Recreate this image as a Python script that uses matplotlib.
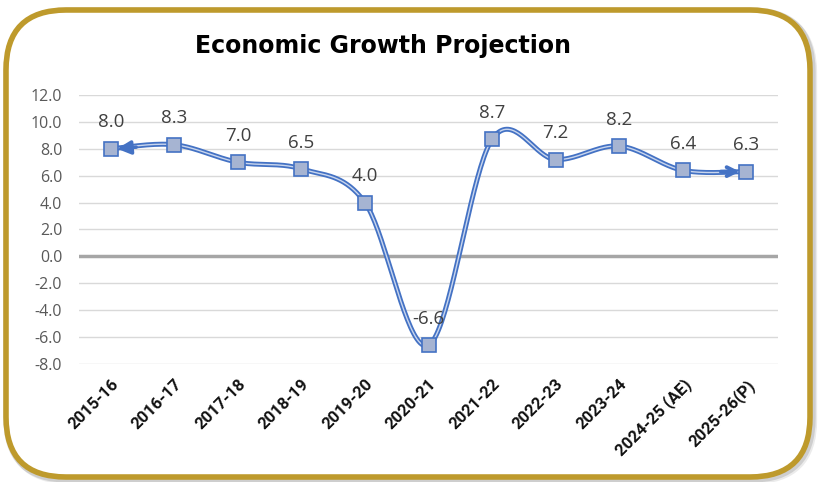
import numpy as np
import matplotlib.pyplot as plt
from matplotlib.patches import FancyBboxPatch

# data
years = ['2015-16', '2016-17', '2017-18', '2018-19', '2019-20', '2020-21',
         '2021-22', '2022-23', '2023-24', '2024-25 (AE)', '2025-26(P)']
growth = [8.0, 8.3, 7.0, 6.5, 4.0, -6.6, 8.7, 7.2, 8.2, 6.4, 6.3]
yticks = [-8, -6, -4, -2, 0, 2, 4, 6, 8, 10, 12]

blue = '#4472C4'
fig = plt.figure(figsize=(8.18, 4.82), dpi=100)

# rounded gold frame with a soft shadow
for off, a in [(0.03, 0.08), (0.015, 0.12)]:
    fig.patches.append(FancyBboxPatch((0.06 + off, 0.05 - off), 8.04, 4.67,
                                      boxstyle='round,pad=0,rounding_size=0.6',
                                      transform=fig.dpi_scale_trans, fc='none',
                                      ec=(0, 0, 0, a), lw=6, zorder=-3))
fig.patches.append(FancyBboxPatch((0.06, 0.05), 8.04, 4.67,
                                  boxstyle='round,pad=0,rounding_size=0.6',
                                  transform=fig.dpi_scale_trans, fc='white',
                                  ec='#BE9A2C', lw=4, zorder=-2))

ax = fig.add_axes([0.0966, 0.2448, 0.8545, 0.5582])
ax.set_facecolor('none')
x = np.arange(len(years))
y = np.array(growth)

# excel-like smoothed line (cubic bezier, catmull-rom control points)
pts = np.column_stack([x, y]).astype(float)
ext = np.vstack([pts[0], pts, pts[-1]])
curve = []
t = np.linspace(0, 1, 40)[:, None]
for i in range(len(pts) - 1):
    p0, p3 = pts[i], pts[i + 1]
    c1 = p0 + (ext[i + 2] - ext[i]) / 6
    c2 = p3 - (ext[i + 3] - ext[i + 1]) / 6
    seg = (1 - t) ** 3 * p0 + 3 * (1 - t) ** 2 * t * c1 + 3 * (1 - t) * t ** 2 * c2 + t ** 3 * p3
    curve.append(seg)
curve = np.vstack(curve)

ax.plot(curve[:, 0], curve[:, 1], color=blue, lw=3.6, zorder=3, solid_capstyle='round')
ax.plot(curve[:, 0], curve[:, 1], color='#C9D6EE', lw=1.0, zorder=4)
ax.plot(x, y, ls='none', marker='s', ms=9.5, mfc='#A6B4D2', mec=blue, mew=1.2, zorder=6)

# arrow heads at both ends
ax.annotate('', xy=(x[0] + 0.1, y[0]), xytext=(x[0] + 0.4, y[0] + 0.12),
            arrowprops=dict(arrowstyle='-|>', color=blue, lw=2.5, mutation_scale=20,
                            shrinkA=0, shrinkB=0), zorder=5)
ax.annotate('', xy=(x[-1] - 0.1, y[-1]), xytext=(x[-1] - 0.4, y[-1]),
            arrowprops=dict(arrowstyle='->', color=blue, lw=2.8, mutation_scale=16,
                            shrinkA=0, shrinkB=0), zorder=5)

for xi, yi in zip(x, y):
    ax.annotate(f'{yi:.1f}', (xi, yi), xytext=(0, 12.5), textcoords='offset points',
                ha='center', va='bottom', fontsize=13.5, color='#404040',
                family='Open Sans', zorder=7)

ax.set_xlim(-0.5, len(years) - 0.5)
ax.set_ylim(-8, 12)
ax.set_yticks(yticks)
ax.set_yticklabels([f'{v:.1f}' for v in yticks], fontsize=11.5, color='#595959',
                   family='Open Sans')
ax.set_xticks(x)
ax.set_xticklabels(years, rotation=45, ha='right', va='top', rotation_mode='anchor',
                   fontsize=12, fontweight='bold', family='Roboto', color='#111111')
ax.tick_params(axis='both', length=0)
ax.tick_params(axis='y', pad=12)
ax.tick_params(axis='x', pad=9)
for s in ax.spines.values():
    s.set_visible(False)
ax.grid(axis='y', color='#D9D9D9', lw=1)
ax.axhline(0, color='#A6A6A6', lw=2.5, zorder=2)
ax.set_axisbelow(True)

fig.text(0.468, 0.905, 'Economic Growth Projection', ha='center', va='center',
         fontsize=17, fontweight='bold', family='DejaVu Sans', color='black')

fig.savefig('out.png', dpi=100)
